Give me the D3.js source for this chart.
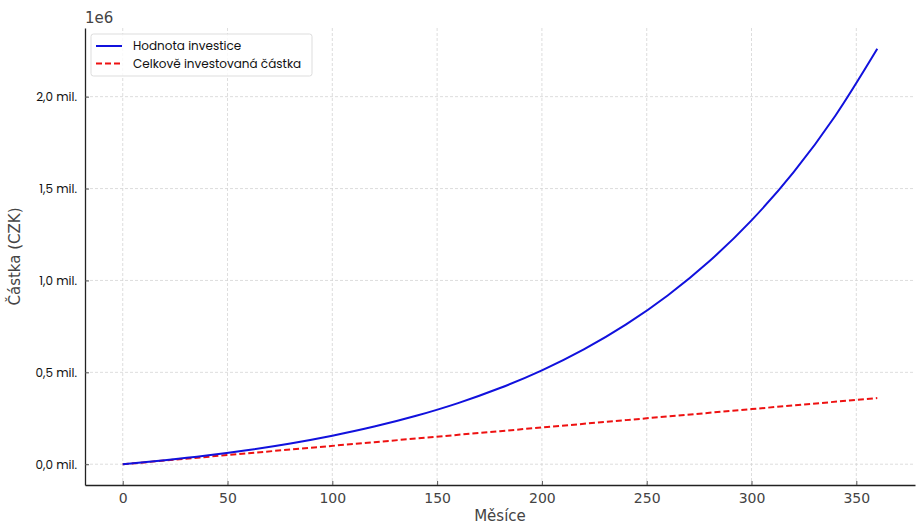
<!DOCTYPE html>
<html>
<head>
<meta charset="utf-8">
<script src="https://cdn.jsdelivr.net/npm/d3@7"></script>
<style>
body { margin: 0; background: #fff; }
</style>
</head>
<body>
<svg width="921" height="528"></svg>
<script>
// months and values
var months = [0, 20, 40, 60, 80, 100, 120, 140, 160, 180, 200, 220, 240, 260, 280, 300, 320, 340, 360];
var investValue = [0, 21700, 47200, 77400, 113100, 155200, 204800, 263500, 332700, 414500, 511000, 624900, 759400, 918200, 1105600, 1326800, 1588000, 1896400, 2260500];
var investedMonths = [0, 60, 120, 180, 240, 300, 360];
var investedTotal = [0, 60000, 120000, 180000, 240000, 300000, 360000];
var xTicks = [0, 50, 100, 150, 200, 250, 300, 350];
var yTicks = [0, 500000, 1000000, 1500000, 2000000];
var seriesNames = ["Hodnota investice", "Celkově investovaná částka"];

var svg = d3.select("svg");
var pLeft = 85, pRight = 915, pTop = 28, pBottom = 485;

var x = d3.scaleLinear().domain([-18, 378]).range([pLeft, pRight]);
var y = d3.scaleLinear().domain([-113000, 2373500]).range([pBottom, pTop]);

var tickFont = "Poppins, Lato, 'Open Sans', sans-serif";
var djv = "'DejaVu Sans', sans-serif";

// grid
svg.append("g").selectAll("line")
	.data(xTicks)
	.enter().append("line")
	.attr("x1", d => x(d)).attr("x2", d => x(d))
	.attr("y1", pTop).attr("y2", pBottom)
	.attr("stroke", "#d4d4d4").attr("stroke-width", 0.8)
	.attr("stroke-dasharray", "3,2");

svg.append("g").selectAll("line")
	.data(yTicks)
	.enter().append("line")
	.attr("x1", pLeft).attr("x2", pRight)
	.attr("y1", d => y(d)).attr("y2", d => y(d))
	.attr("stroke", "#d4d4d4").attr("stroke-width", 0.8)
	.attr("stroke-dasharray", "3,2");

// axes (ticks point inward)
var xAxis = svg.append("g")
	.attr("transform", "translate(0," + pBottom + ")")
	.call(d3.axisBottom(x).tickValues(xTicks).tickSizeInner(-4).tickSizeOuter(0).tickPadding(8));
xAxis.select(".domain").attr("stroke", "#222").attr("stroke-width", 1.3);
xAxis.selectAll(".tick line").attr("stroke", "#555");
xAxis.selectAll("text")
	.attr("fill", "#444")
	.style("font-family", djv)
	.style("font-size", "14px");

var yAxis = svg.append("g")
	.attr("transform", "translate(" + pLeft + ",0)")
	.call(d3.axisLeft(y).tickValues(yTicks).tickSizeInner(-4).tickSizeOuter(0).tickPadding(8)
		.tickFormat(d => (d / 1e6).toFixed(1).replace(".", ",") + " mil."));
yAxis.select(".domain").attr("stroke", "#222").attr("stroke-width", 1.3);
yAxis.selectAll(".tick line").attr("stroke", "#555");
yAxis.selectAll("text")
	.attr("fill", "#111")
	.style("font-family", tickFont)
	.style("font-size", "12px");

// labels
svg.append("text")
	.attr("x", x(180)).attr("y", 521)
	.attr("text-anchor", "middle")
	.attr("fill", "#444")
	.style("font-family", djv).style("font-size", "15px")
	.text("Měsíce");

svg.append("text")
	.attr("transform", "translate(20," + ((pTop + pBottom) / 2) + ") rotate(-90)")
	.attr("text-anchor", "middle")
	.attr("fill", "#444")
	.style("font-family", djv).style("font-size", "15px")
	.text("Částka (CZK)");

svg.append("text")
	.attr("x", pLeft).attr("y", 23)
	.attr("fill", "#444")
	.style("font-family", djv).style("font-size", "15px")
	.text("1e6");

// lines
var line = d3.line()
	.x(d => x(d[0]))
	.y(d => y(d[1]))
	.curve(d3.curveMonotoneX);

svg.append("path")
	.datum(d3.zip(investedMonths, investedTotal))
	.attr("d", line)
	.attr("fill", "none")
	.attr("stroke", "#ee1111")
	.attr("stroke-width", 2)
	.attr("stroke-dasharray", "6,3");

svg.append("path")
	.datum(d3.zip(months, investValue))
	.attr("d", line)
	.attr("fill", "none")
	.attr("stroke", "#1111dd")
	.attr("stroke-width", 2);

// legend
var lg = svg.append("g").attr("transform", "translate(91,34)");
lg.append("rect")
	.attr("width", 221).attr("height", 42)
	.attr("rx", 2.5)
	.attr("fill", "#fff").attr("fill-opacity", 0.8)
	.attr("stroke", "#ddd");
var items = lg.selectAll(".item")
	.data(seriesNames)
	.enter().append("g")
	.attr("class", "item")
	.attr("transform", (d, i) => "translate(0," + (12 + i * 17.5) + ")");
items.append("line")
	.attr("x1", 5).attr("x2", 31)
	.attr("stroke", (d, i) => i == 0 ? "#1111dd" : "#ee1111")
	.attr("stroke-width", 2)
	.attr("stroke-dasharray", (d, i) => i == 0 ? null : "6,3");
items.append("text")
	.attr("x", 42).attr("dy", "0.35em")
	.attr("fill", "#111")
	.style("font-family", tickFont).style("font-size", "12px")
	.text(d => d);
</script>
</body>
</html>
